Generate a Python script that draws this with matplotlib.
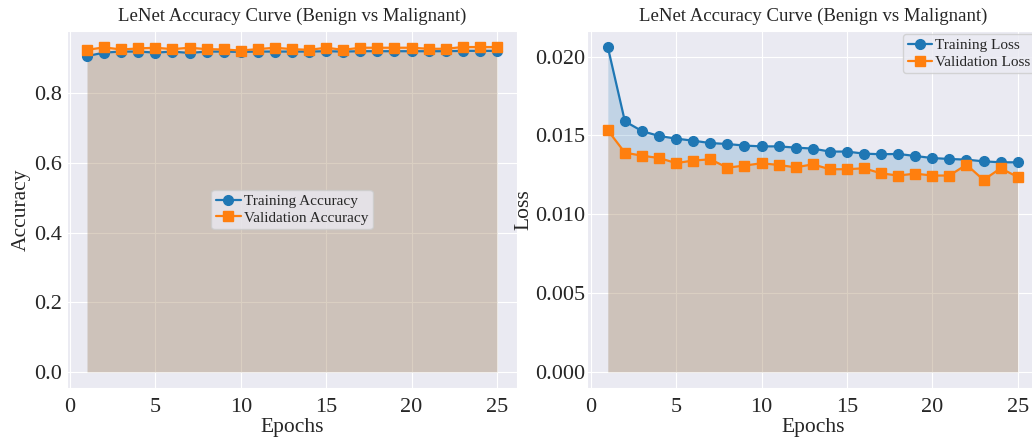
import matplotlib
matplotlib.use('Agg')
import matplotlib.pyplot as plt
import seaborn as sns

sns.set_style('darkgrid')
plt.rcParams['font.family'] = ['Liberation Serif', 'DejaVu Serif']

# data
epochs = list(range(1, 26))
train_acc = [0.907, 0.917, 0.920, 0.920, 0.917, 0.920, 0.916, 0.920, 0.920, 0.919,
             0.920, 0.920, 0.920, 0.920, 0.921, 0.920, 0.921, 0.921, 0.921, 0.921,
             0.921, 0.921, 0.922, 0.922, 0.922]
val_acc = [0.925, 0.932, 0.926, 0.929, 0.931, 0.927, 0.931, 0.927, 0.926, 0.923,
           0.927, 0.931, 0.927, 0.925, 0.931, 0.925, 0.931, 0.931, 0.931, 0.931,
           0.928, 0.928, 0.933, 0.933, 0.933]
train_loss = [0.02060, 0.01589, 0.01527, 0.01496, 0.01479, 0.01466, 0.01451, 0.01445,
              0.01435, 0.01430, 0.01430, 0.01422, 0.01416, 0.01397, 0.01397, 0.01384,
              0.01380, 0.01382, 0.01369, 0.01356, 0.01350, 0.01346, 0.01335, 0.01329,
              0.01329]
val_loss = [0.01532, 0.01390, 0.01371, 0.01356, 0.01324, 0.01340, 0.01348, 0.01295,
            0.01308, 0.01323, 0.01312, 0.01297, 0.01316, 0.01285, 0.01285, 0.01291,
            0.01259, 0.01245, 0.01257, 0.01245, 0.01245, 0.01314, 0.01217, 0.01291,
            0.01236]

title = 'LeNet Accuracy Curve (Benign vs Malignant)'

fig, (ax1, ax2) = plt.subplots(1, 2, figsize=(10.32, 4.4), dpi=100)
fig.subplots_adjust(left=0.0645, right=1.006, bottom=0.118, top=0.930, wspace=0.155)

# accuracy
ax1.plot(epochs, train_acc, marker='o', color='C0', lw=1.6, ms=7, label='Training Accuracy')
ax1.plot(epochs, val_acc, marker='s', color='C1', lw=1.6, ms=7, label='Validation Accuracy')
ax1.fill_between(epochs, train_acc, color='C0', alpha=0.2, lw=0)
ax1.fill_between(epochs, val_acc, color='C1', alpha=0.2, lw=0)
ax1.set_title(title, fontsize=13.5, pad=7)
ax1.set_xlabel('Epochs', fontsize=15.5, labelpad=1)
ax1.set_ylabel('Accuracy', fontsize=15.5, labelpad=2)
ax1.tick_params(labelsize=16)
ax1.tick_params(axis='y', pad=0)
ax1.legend(loc='center', fontsize=11, handlelength=1.6, borderpad=0.3,
           labelspacing=0.2, handletextpad=0.2, borderaxespad=0.2)

# loss
ax2.plot(epochs, train_loss, marker='o', color='C0', lw=1.6, ms=7, label='Training Loss')
ax2.plot(epochs, val_loss, marker='s', color='C1', lw=1.6, ms=7, label='Validation Loss')
ax2.fill_between(epochs, train_loss, color='C0', alpha=0.2, lw=0)
ax2.fill_between(epochs, val_loss, color='C1', alpha=0.2, lw=0)
ax2.set_title(title, fontsize=13.5, pad=7)
ax2.set_xlabel('Epochs', fontsize=15.5, labelpad=1)
ax2.set_ylabel('Loss', fontsize=15.5, labelpad=1)
ax2.tick_params(labelsize=16)
ax2.tick_params(axis='y', pad=-2)
ax2.legend(loc='upper right', fontsize=11, handlelength=1.6, borderpad=0.3,
           labelspacing=0.2, handletextpad=0.2, borderaxespad=0.2)

plt.savefig('out.png')
